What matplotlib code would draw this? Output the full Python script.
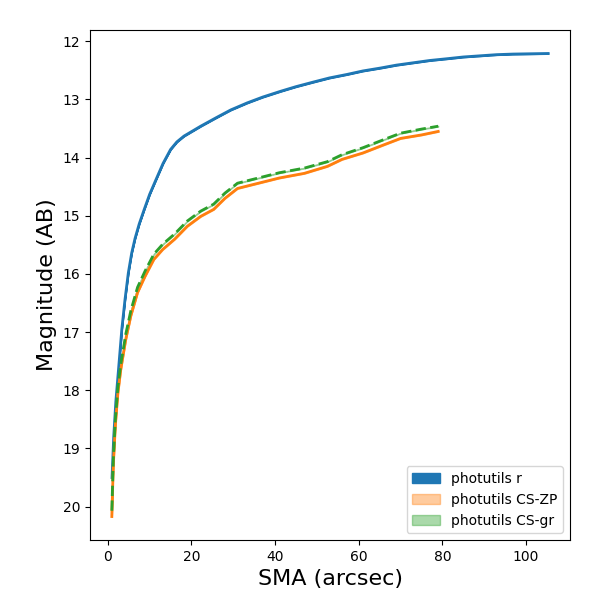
import numpy as np
import matplotlib
matplotlib.use("Agg")
import matplotlib.pyplot as plt

# photutils r-band curve of growth
sma_r = [1.0, 1.4, 1.9, 2.55, 3.34, 4.1, 4.9, 5.7, 6.5, 7.5, 8.7, 10.0, 11.5, 13.2, 15.0,
         16.5, 18.2, 22.2, 26.0, 29.4, 33.3, 37.0, 41.3, 45.0, 49.2, 53.0, 57.2,
         61.0, 65.2, 69.0, 73.0, 77.0, 81.1, 85.0, 89.0, 93.0, 96.9, 101.0, 105.3]
mag_r = [19.50, 18.80, 18.20, 17.64, 16.95, 16.44, 15.98, 15.64, 15.39, 15.14, 14.89, 14.63,
         14.38, 14.10, 13.86, 13.73, 13.63, 13.46, 13.31, 13.18, 13.06, 12.96, 12.86, 12.78,
         12.70, 12.63, 12.57, 12.51, 12.46, 12.41, 12.37, 12.33, 12.30, 12.27, 12.25, 12.23,
         12.22, 12.215, 12.21]

# photutils CS-ZP
sma_cs = [0.95, 1.3, 1.8, 2.4, 3.1, 4.3, 5.5, 7.1, 8.9, 11.0, 13.1, 16.0, 19.0,
          22.2, 25.3, 28.0, 31.0, 36.0, 41.0, 47.0, 52.5, 56.0, 61.0, 66.0, 70.0,
          75.0, 79.0]
mag_zp = [20.17, 19.3, 18.6, 18.05, 17.64, 17.12, 16.72, 16.32, 16.04, 15.75, 15.58, 15.40, 15.18,
          15.01, 14.89, 14.70, 14.53, 14.44, 14.35, 14.27, 14.15, 14.03, 13.92, 13.78, 13.67,
          13.61, 13.55]
# photutils CS-gr
mag_gr = [20.07, 19.2, 18.5, 17.95, 17.55, 17.03, 16.63, 16.23, 15.95, 15.66, 15.49, 15.31, 15.09,
          14.92, 14.80, 14.61, 14.44, 14.35, 14.26, 14.18, 14.07, 13.95, 13.83, 13.69, 13.58,
          13.51, 13.46]

err = 0.005

fig, ax = plt.subplots(figsize=(6, 6), dpi=100)
fig.subplots_adjust(left=0.15, right=0.95, bottom=0.1, top=0.95)

mr = np.array(mag_r)
mz = np.array(mag_zp)
mg = np.array(mag_gr)

ax.fill_between(sma_r, mr - err, mr + err, color='C0', alpha=1.0, label='photutils r')
ax.plot(sma_r, mr, color='C0', lw=2)
ax.fill_between(sma_cs, mz - err, mz + err, color='C1', alpha=0.4, label='photutils CS-ZP')
ax.plot(sma_cs, mz, color='C1', lw=2)
ax.fill_between(sma_cs, mg - err, mg + err, color='C2', alpha=0.4, label='photutils CS-gr')
ax.plot(sma_cs, mg, color='C2', lw=2, linestyle='--')

ax.invert_yaxis()
ax.set_xlabel('SMA (arcsec)', fontsize=16)
ax.set_ylabel('Magnitude (AB)', fontsize=16)
ax.legend(loc='lower right')

plt.savefig('out.png', dpi=100)
